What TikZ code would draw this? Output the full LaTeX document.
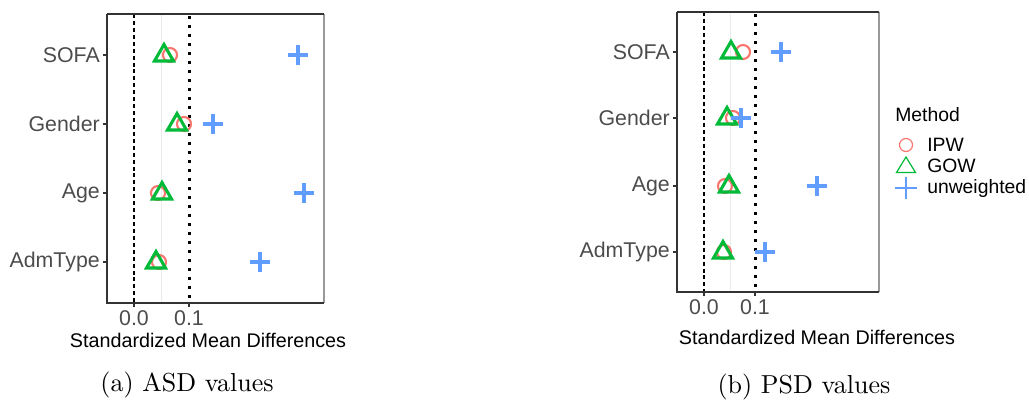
\documentclass[tikz,border=0pt]{standalone}
\usepackage{fontspec}
\newfontfamily\plotfont{Liberation Sans}
\newfontfamily\capfont{lmroman10-regular.otf}
\begin{document}
\begin{tikzpicture}[x=0.75pt,y=-0.75pt,
  ylab/.style={anchor=east,text=black!70,font=\plotfont\fontsize{16}{19}\selectfont,inner sep=0pt},
  tlab/.style={anchor=north,text=black!70,font=\plotfont\fontsize{16}{19}\selectfont,inner sep=0pt},
  atitle/.style={font=\plotfont\fontsize{14.8}{17}\selectfont,inner sep=0pt},
  capt/.style={font=\capfont\fontsize{19.5}{23}\selectfont,inner sep=0pt},
  legt/.style={anchor=west,font=\plotfont\fontsize{14.5}{17}\selectfont,inner sep=0pt},
  axisline/.style={draw=black!80,line width=0.9pt},
  panelr/.style={draw=black!40,line width=0.9pt},
  ticklin/.style={draw=black!80,line width=0.9pt},
  zeroline/.style={draw=black,line width=1.1pt,dash pattern=on 3pt off 2.2pt},
  tenline/.style={draw=black,line width=2.25pt,dash pattern=on 2.25pt off 4.5pt},
  gridl/.style={draw=black!8,line width=0.75pt},
  pics/ipw/.style={code={\draw[draw=ipwc,line width=1.6pt] (0,0) circle[radius=7];}},
  pics/gow/.style={code={\draw[draw=gowc,line width=2.3pt,line join=miter] (0,-10.5) -- (9.5,6) -- (-9.5,6) -- cycle;}},
  pics/unw/.style={code={\draw[draw=unwc,line width=2.3pt] (-10,0) -- (10,0) (0,-10) -- (0,10);}},
  pics/ipwl/.style={code={\draw[draw=ipwc,line width=0.9pt] (0,0) circle[radius=6.5];}},
  pics/gowl/.style={code={\draw[draw=gowc,line width=0.9pt] (0,-8) -- (9.5,7.5) -- (-9.5,7.5) -- cycle;}},
  pics/unwl/.style={code={\draw[draw=unwc,line width=0.9pt] (-11,0) -- (11,0) (0,-11) -- (0,11);}},
]
\definecolor{ipwc}{HTML}{F8766D}
\definecolor{gowc}{HTML}{00BA38}
\definecolor{unwc}{HTML}{619CFF}
\useasboundingbox (0,0) rectangle (1029,400);

% ---------------- left panel ----------------
\draw[gridl] (161,14) -- (161,303);
\draw[zeroline] (134,14) -- (134,303);
\draw[tenline] (189,16) -- (189,303);
\draw[panelr] (324,14) -- (324,303);
\draw[axisline] (107,14) -- (324,14);
\draw[axisline] (107,14) -- (107,303) -- (324,303);
\foreach \yy in {55,124,193,262} \draw[ticklin] (103,\yy) -- (107,\yy);
\foreach \xx in {134,189} \draw[ticklin] (\xx,303) -- (\xx,307);

\node[ylab] (lsofa) at (100,55) {SOFA};
\node[ylab] (lgender) at (100,124) {Gender};
\node[ylab] (lage) at (100,193) {Age};
\node[ylab] (ladm) at (100,262) {AdmType};
\node[tlab] (lt0) at (134,310) {0.0};
\node[tlab] (lt1) at (189,310) {0.1};
\node[atitle] (lax) at (208,340) {Standardized Mean Differences};
\node[capt] (lcap) at (187,385) {(a) ASD values};

\pic at (170,55) {ipw};  \pic at (164,55) {gow};  \pic at (298,55) {unw};
\pic at (184,124) {ipw}; \pic at (177,124) {gow}; \pic at (213,124) {unw};
\pic at (158,193) {ipw}; \pic at (162,193) {gow}; \pic at (304,193) {unw};
\pic at (159,262) {ipw}; \pic at (156,262) {gow}; \pic at (260,262) {unw};

% ---------------- right panel ----------------
\draw[gridl] (730,12) -- (730,292);
\draw[zeroline] (704,12) -- (704,292);
\draw[tenline] (755,14) -- (755,292);
\draw[panelr] (879,12) -- (879,292);
\draw[axisline] (677,12) -- (879,12);
\draw[axisline] (677,12) -- (677,292) -- (879,292);
\foreach \yy in {52,118,186,252} \draw[ticklin] (673,\yy) -- (677,\yy);
\foreach \xx in {704,755} \draw[ticklin] (\xx,292) -- (\xx,296);

\node[ylab] (rsofa) at (670,52) {SOFA};
\node[ylab] (rgender) at (670,118) {Gender};
\node[ylab] (rage) at (670,186) {Age};
\node[ylab] (radm) at (670,252) {AdmType};
\node[tlab] (rt0) at (704,299) {0.0};
\node[tlab] (rt1) at (755,299) {0.1};
\node[atitle] (rax) at (817,337) {Standardized Mean Differences};
\node[capt] (rcap) at (804,387) {(b) PSD values};

\pic at (743,52) {ipw};  \pic at (731,52) {gow};  \pic at (781,52) {unw};
\pic at (733,118) {ipw}; \pic at (727,118) {gow}; \pic at (741,118) {unw};
\pic at (725,186) {ipw}; \pic at (729,186) {gow}; \pic at (817,186) {unw};
\pic at (724,252) {ipw}; \pic at (723,252) {gow}; \pic at (765,252) {unw};

% ---------------- legend ----------------
\node[legt] (lgtitle) at (895,115) {Method};
\pic at (906,145) {ipwl};
\pic at (906,165) {gowl};
\pic at (906,188) {unwl};
\node[legt] (lgipw) at (927,145) {IPW};
\node[legt] (lggow) at (927,166) {GOW};
\node[legt] (lgunw) at (927,188) {unweighted};
\end{tikzpicture}
\end{document}
